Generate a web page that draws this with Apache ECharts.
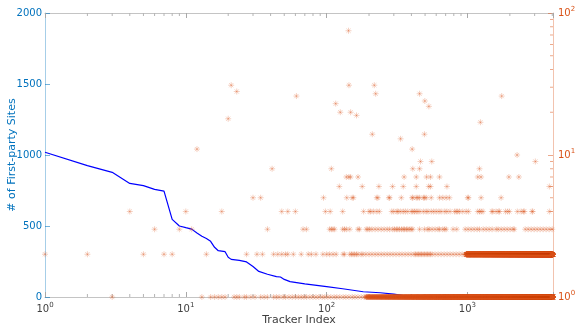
<!DOCTYPE html>
<html><head><meta charset="utf-8">
<script src="https://cdn.jsdelivr.net/npm/echarts@6/dist/echarts.min.js"></script>
<style>html,body{margin:0;padding:0;background:#fff}#c{width:576px;height:331px}</style>
</head><body><div id="c"></div>
<script>
// ---- Data ----
// Blue line: # of first-party sites per tracker index (left axis)
const lineTrackers = [1,2,3,4,5,6,7,8,9,10,11,12,13,14,15,16,17,19,20,21,24,27,30,33,38,44,47,50,55,70,100,130,182,240,300,350,400,540,1000,4000];
const lineSites    = [1019,925,878,800,784,758,746,547,500,488,478,451,428,412,392,350,326,319,280,265,258,247,215,180,160,143,141,124,108,93,73,58,37,30,20,10,6,2,1,1];

// Orange markers (right axis, log): count value -> tracker indices showing that value
const markerCounts = [1,2,3,4,5,6,7,8,9,10,11,13,14,17,18,19,20,22,23,24,26,27,28,31,75];
const markerTrackers = [
  [3,13,15,16,17,18,19,22,23,24,26,27,29,31,34,36,38,42,44,46,49,51,54,57,60,63,66,69,72,76,80,84,88,93,97,102,107,113,118,124,131,137,144,152,159,167,176,185],
  [1,2,5,7,8,14,27,32,35,42,45,48,51,53,58,66,74,78,84,94,100,105,111,117,131,134,146,150,154,158,163,167,176,181,190,200,210,221,232,244,256,269,282,296,311,327,343,361,379,398,418,428,439,450,461,472,484,496,509,521,534,547,561,589,619,650,683,717,753,791,831,873,917,963],
  [6,9,11,38,68,72,105,108,111,114,130,134,138,146,167,171,191,196,202,210,221,232,244,256,269,280,295,303,313,320,329,340,350,357,369,377,390,399,409,457,495,523,534,561,589,619,633,668,690,706,790,840,963,1011,1062,1116,1172,1217,1293,1358,1426,1498,1597,1652,1736,1823,1915,2011,2112,2150,2570,2700,2835,2978,3128,3285,3450,3624,3806,3998],
  [4,10,18,48,53,60,98,106,130,183,200,205,215,227,237,290,300,316,321,335,350,362,377,399,409,420,432,445,461,487,509,525,553,575,600,627,651,690,715,753,810,832,853,878,926,979,1020,1183,1220,1250,1290,1490,1512,1597,1670,1686,1860,1932,1986,2260,2404,2500,2537,2880,2904,3815],
  [30,34,95,139,152,155,227,231,277,280,339,405,409,433,444,457,487,495,509,553,633,668,706,745,1005,1016,1250,1734],
  [123,179,235,294,350,433,531,547,715,3815],
  [138,144,148,167,355,433,512,547,633,1183,1250,1969,2318],
  [41,108,409,457,1217],
  [464,558,3035],
  [2252],
  [12,405],
  [335],
  [211,495],
  [1236],
  [20],
  [163],
  [125,148],
  [532],
  [116],
  [498],
  [61,1750],
  [223,457],
  [23],
  [21,144,218],
  [143]
];
// Solid bands: every tracker index in [start, end] has a marker at that count
const bandCounts = [1, 2];
const bandStart  = [190, 980];
const bandEnd    = [4040, 4040];

// Tick values
const xMinorTicks = [2,3,4,5,6,7,8,9,20,30,40,50,60,70,80,90,200,300,400,500,600,700,800,900,2000,3000,4000];
const rMinorTicks = [2,3,4,5,6,7,8,9,20,30,40,50,60,70,80,90];
const X_MIN = 1, X_MAX = 4050;

// ---- Build series data ----
const lineData = lineTrackers.map((t, i) => [t, lineSites[i]]);
const scatterData = [];
markerTrackers.forEach((list, k) => list.forEach(t => scatterData.push([t, markerCounts[k]])));
bandCounts.forEach((c, k) => { for (let t = bandStart[k]; t <= bandEnd[k]; t++) scatterData.push([t, c]); });

const FONT = 'DejaVu Sans';
const BLUE = '#0072bd', ORANGE = '#d95319', GRAY = '#404040';
function supFmt(v) {
  const l = Math.log10(v), e = Math.round(l);
  if (Math.abs(l - e) > 1e-6) return '';
  return '{b|10}{s|' + e + '}';
}
function rich(color) {
  return {
    b: {fontSize: 10, fontFamily: FONT, color: color},
    s: {fontSize: 7, fontFamily: FONT, color: color, padding: [0, 0, 8, 0]}
  };
}

const chart = echarts.init(document.getElementById('c'), null, {renderer: 'canvas'});
chart.setOption({
  animation: false,
  backgroundColor: '#fff',
  grid: {left: 45, right: 23, top: 13, bottom: 34, containLabel: false, outerBoundsMode: 'none'},
  xAxis: [
    {type: 'log', logBase: 10, min: X_MIN, max: X_MAX, position: 'bottom',
     axisLine: {show: true, lineStyle: {color: '#c4c4c4', width: 1}},
     axisTick: {show: true, inside: true, length: 5, lineStyle: {color: '#a8a8a8'}},
     splitLine: {show: false},
     axisLabel: {formatter: supFmt, margin: 5, rich: rich(GRAY)},
     name: 'Tracker Index', nameLocation: 'middle', nameGap: 18, nameMoveOverlap: false,
     nameTextStyle: {fontFamily: FONT, fontSize: 11, color: GRAY}},
    {type: 'log', logBase: 10, min: X_MIN, max: X_MAX, position: 'top',
     axisLine: {show: true, lineStyle: {color: '#c4c4c4', width: 1}},
     axisTick: {show: true, inside: true, length: 5, lineStyle: {color: '#a8a8a8'}},
     splitLine: {show: false}, axisLabel: {show: false}}
  ],
  yAxis: [
    {type: 'value', min: 0, max: 2000, interval: 500, position: 'left',
     axisLine: {show: true, lineStyle: {color: 'rgba(0,114,189,0.35)'}},
     axisTick: {show: true, inside: true, length: 5, lineStyle: {color: 'rgba(0,114,189,0.55)'}},
     splitLine: {show: false},
     axisLabel: {color: BLUE, fontSize: 10, fontFamily: FONT, margin: 3, formatter: v => String(v)},
     name: '# of First-party Sites', nameLocation: 'middle', nameGap: 27, nameMoveOverlap: false,
     nameTextStyle: {fontFamily: FONT, fontSize: 11, color: BLUE}},
    {type: 'log', logBase: 10, min: 1, max: 100, position: 'right',
     axisLine: {show: true, lineStyle: {color: 'rgba(217,83,25,0.35)'}},
     axisTick: {show: true, inside: true, length: 5, lineStyle: {color: 'rgba(217,83,25,0.5)'}},
     splitLine: {show: false},
     axisLabel: {formatter: supFmt, margin: 5, rich: rich(ORANGE)}}
  ],
  series: [
    {type: 'custom', xAxisIndex: 0, yAxisIndex: 0, silent: true,
     data: xMinorTicks.map(v => [v, 0]),
     renderItem: function (params, api) {
       const b = api.coord([api.value(0), 0]);
       const t = api.coord([api.value(0), 2000]);
       const st = {stroke: '#b4b4b4', lineWidth: 1};
       return {type: 'group', children: [
         {type: 'line', shape: {x1: b[0], y1: b[1], x2: b[0], y2: b[1] - 3}, style: st},
         {type: 'line', shape: {x1: t[0], y1: t[1], x2: t[0], y2: t[1] + 3}, style: st}
       ]};
     }},
    {type: 'custom', xAxisIndex: 0, yAxisIndex: 1, silent: true,
     data: rMinorTicks.map(v => [X_MAX, v]),
     renderItem: function (params, api) {
       const p = api.coord([X_MAX, api.value(1)]);
       return {type: 'line', shape: {x1: p[0], y1: p[1], x2: p[0] - 3, y2: p[1]},
               style: {stroke: 'rgba(217,83,25,0.5)', lineWidth: 1}};
     }},
    {type: 'line', xAxisIndex: 0, yAxisIndex: 0, data: lineData, showSymbol: false,
     lineStyle: {color: '#0000ff', width: 1.2}, z: 2},
    {type: 'scatter', xAxisIndex: 0, yAxisIndex: 1, data: scatterData, z: 3,
     symbol: 'path://M0,-5L0,5M-5,0L5,0M-3.5,-3.5L3.5,3.5M-3.5,3.5L3.5,-3.5',
     symbolSize: 6, progressive: 0, large: false,
     itemStyle: {color: 'rgba(0,0,0,0)', borderColor: ORANGE, borderWidth: 0.6, opacity: 0.45}}
  ]
});
</script>
</body></html>
